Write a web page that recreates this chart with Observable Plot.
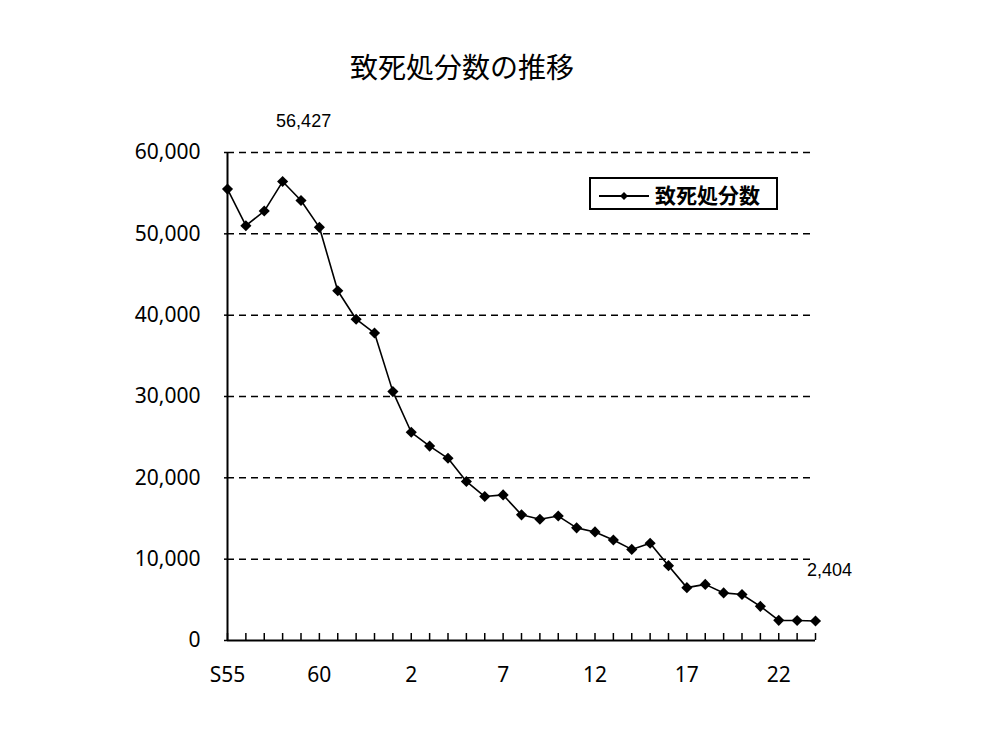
<!DOCTYPE html>
<html lang="ja">
<head>
<meta charset="utf-8">
<script src="https://cdn.jsdelivr.net/npm/d3@7"></script>
<script src="https://cdn.jsdelivr.net/npm/@observablehq/plot@0.6"></script>
<style>
  body { margin: 0; background: #fff; }
  #wrap { position: relative; width: 1000px; height: 750px; }
  #title {
    position: absolute; left: 0; top: 52px; width: 924px;
    text-align: center; font-family: "Noto Sans CJK JP", sans-serif;
    font-size: 28px; line-height: 28px; color: #000;
  }
  #legend {
    position: absolute; left: 589px; top: 177px; width: 189px; height: 33px;
    box-sizing: border-box; border: 2px solid #000; background: #fff;
  }
  #legend svg { position: absolute; left: 6px; top: 5px; }
  #legend span {
    position: absolute; left: 64px; top: 2px;
    font-family: "Noto Sans CJK JP", sans-serif; font-weight: bold;
    font-size: 21px; line-height: 26px; color: #000;
  }
  #chart { position: absolute; left: 0; top: 0; }
</style>
</head>
<body>
<div id="wrap">
  <div id="chart"></div>
  <div id="title">致死処分数の推移</div>
  <div id="legend"></div>
</div>
<script>
// Fiscal years S55 (1980) to H24 (2012)
const years = [1980, 1981, 1982, 1983, 1984, 1985, 1986, 1987, 1988, 1989,
               1990, 1991, 1992, 1993, 1994, 1995, 1996, 1997, 1998, 1999,
               2000, 2001, 2002, 2003, 2004, 2005, 2006, 2007, 2008, 2009,
               2010, 2011, 2012];
// Number of animals put down each year
const counts = [55500, 51000, 52800, 56427, 54100, 50800, 43000, 39500, 37800, 30600,
                25600, 23900, 22400, 19550, 17700, 17900, 15450, 14900, 15300, 13850,
                13350, 12350, 11200, 11950, 9200, 6500, 6900, 5850, 5650, 4200,
                2480, 2450, 2404];
// Era-style axis labels
const tickYears = [1980, 1985, 1990, 1995, 2000, 2005, 2010];
const tickText = ["S55", "60", "2", "7", "12", "17", "22"];
const yTicks = [0, 10000, 20000, 30000, 40000, 50000, 60000];
const gridValues = [10000, 20000, 30000, 40000, 50000, 60000];
const seriesName = "致死処分数";

const data = years.map((year, i) => ({year, count: counts[i]}));
const fmt = d3.format(",");
const peak = data.reduce((a, b) => (b.count > a.count ? b : a));
const last = data[data.length - 1];

const chart = Plot.plot({
  width: 1000,
  height: 750,
  marginLeft: 227,
  marginRight: 185,
  marginTop: 152,
  marginBottom: 110,
  style: {fontFamily: "'Noto Sans', sans-serif", fontSize: "21px", color: "#000", background: "transparent"},
  x: {domain: [years[0], years[years.length - 1]], label: null},
  y: {domain: [0, 60000], label: null},
  marks: [
    Plot.gridY(gridValues, {stroke: "#000", strokeOpacity: 1, strokeWidth: 1.5, strokeDasharray: "7,5"}),
    Plot.axisY(yTicks, {tickSize: 3, tickPadding: 24, tickFormat: fmt, fontSize: 21, label: null, strokeWidth: 1.5}),
    // inward year ticks along the baseline
    Plot.axisX(years, {tickSize: 7, dy: -7, tickFormat: () => "", label: null, strokeWidth: 1.5}),
    Plot.axisX(tickYears, {tickSize: 0, tickPadding: 27, tickFormat: (d) => tickText[tickYears.indexOf(d)], fontSize: 21, label: null}),
    Plot.ruleX([years[0]], {stroke: "#000", strokeWidth: 2}),
    Plot.ruleY([0], {stroke: "#000", strokeWidth: 2}),
    Plot.line(data, {x: "year", y: "count", stroke: "#000", strokeWidth: 1.6}),
    Plot.dot(data, {x: "year", y: "count", symbol: "diamond2", r: 5, fill: "#000", stroke: null}),
    Plot.text([peak], {x: "year", y: "count", text: (d) => fmt(d.count), dx: 21, dy: -60,
      fontFamily: "'Liberation Sans', sans-serif", fontSize: 18, fill: "#000"}),
    Plot.text([last], {x: "year", y: "count", text: (d) => fmt(d.count), dx: 14, dy: -51,
      fontFamily: "'Liberation Sans', sans-serif", fontSize: 18, fill: "#000"})
  ]
});
document.getElementById("chart").append(chart);

// Legend: line sample with marker plus series name
const legend = d3.select("#legend");
const ls = legend.append("svg").attr("width", 56).attr("height", 20);
ls.append("line").attr("x1", 2).attr("x2", 52).attr("y1", 12).attr("y2", 12)
  .attr("stroke", "#000").attr("stroke-width", 1.8);
ls.append("path").attr("d", d3.symbol(d3.symbolDiamond2, 40)())
  .attr("transform", "translate(27,12)").attr("fill", "#000");
legend.append("span").text(seriesName);
</script>
</body>
</html>
